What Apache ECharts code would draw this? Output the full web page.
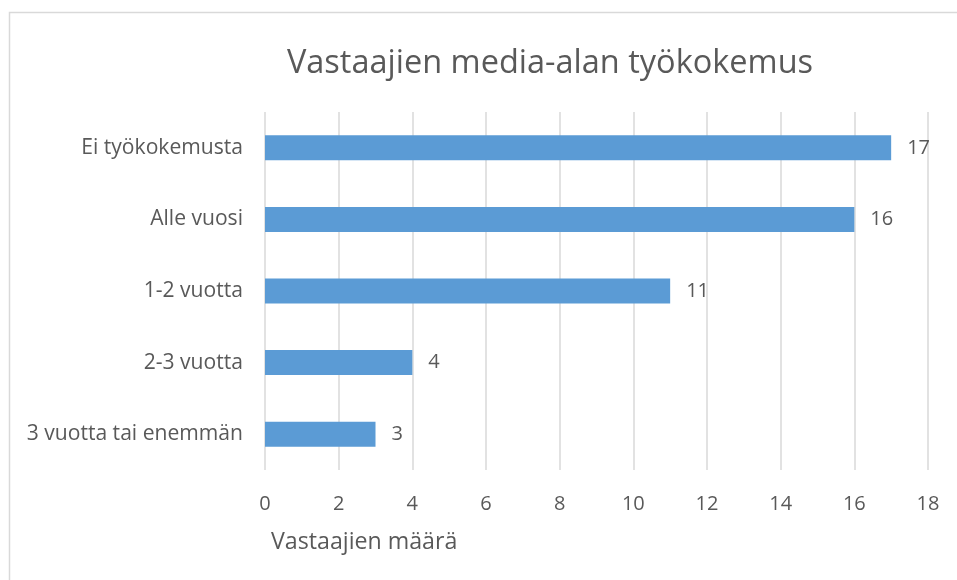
<!DOCTYPE html>
<html>
<head>
<meta charset="utf-8">
<script src="https://cdn.jsdelivr.net/npm/echarts@6/dist/echarts.min.js"></script>
<style>
html,body{margin:0;padding:0;background:#fff;}
#chart{width:957px;height:580px;}
</style>
</head>
<body>
<div id="chart"></div>
<script>
var titleText = "Vastaajien media-alan työkokemus";
var axisName = "Vastaajien määrä";
var categories = ["Ei työkokemusta", "Alle vuosi", "1-2 vuotta", "2-3 vuotta", "3 vuotta tai enemmän"];
var values = [17, 16, 11, 4, 3];
var xMin = 0, xMax = 18, xStep = 2;

var chart = echarts.init(document.getElementById('chart'), null, {renderer: 'canvas'});
var textColor = '#595959';
var font = '"Open Sans", "Noto Sans", sans-serif';
chart.setOption({
  animation: false,
  backgroundColor: '#ffffff',
  graphic: [{
    type: 'rect',
    shape: {x: 9.5, y: 12.5, width: 1000, height: 1000},
    style: {fill: 'none', stroke: '#d9d9d9', lineWidth: 1.5},
    silent: true, z: -1
  }],
  title: {
    text: titleText,
    left: 545, top: 42, textAlign: 'center',
    textStyle: {fontFamily: font, fontWeight: 'normal', fontSize: 32.5, color: textColor}
  },
  grid: {left: 265, right: 29, top: 112, bottom: 110, containLabel: false},
  xAxis: {
    type: 'value', min: xMin, max: xMax, interval: xStep,
    name: axisName, nameLocation: 'start', nameGap: 0,
    nameTextStyle: {fontFamily: font, fontSize: 23.2, color: textColor, align: 'left', verticalAlign: 'top', padding: [61, 0, 0, 6]},
    axisLine: {show: false}, axisTick: {show: false},
    axisLabel: {fontFamily: font, fontSize: 20, color: textColor, margin: 24},
    splitLine: {lineStyle: {color: '#d9d9d9', width: 1.5}}
  },
  yAxis: {
    type: 'category', data: categories, inverse: true,
    axisLine: {show: false}, axisTick: {show: false},
    axisLabel: {fontFamily: font, fontSize: 21.1, color: textColor, margin: 22},
    splitLine: {show: false}
  },
  series: [{
    type: 'bar', data: values, barWidth: 25,
    itemStyle: {color: '#5b9bd5'},
    label: {show: true, position: 'right', distance: 16, fontFamily: font, fontSize: 20, color: textColor}
  }]
});
</script>
</body>
</html>
